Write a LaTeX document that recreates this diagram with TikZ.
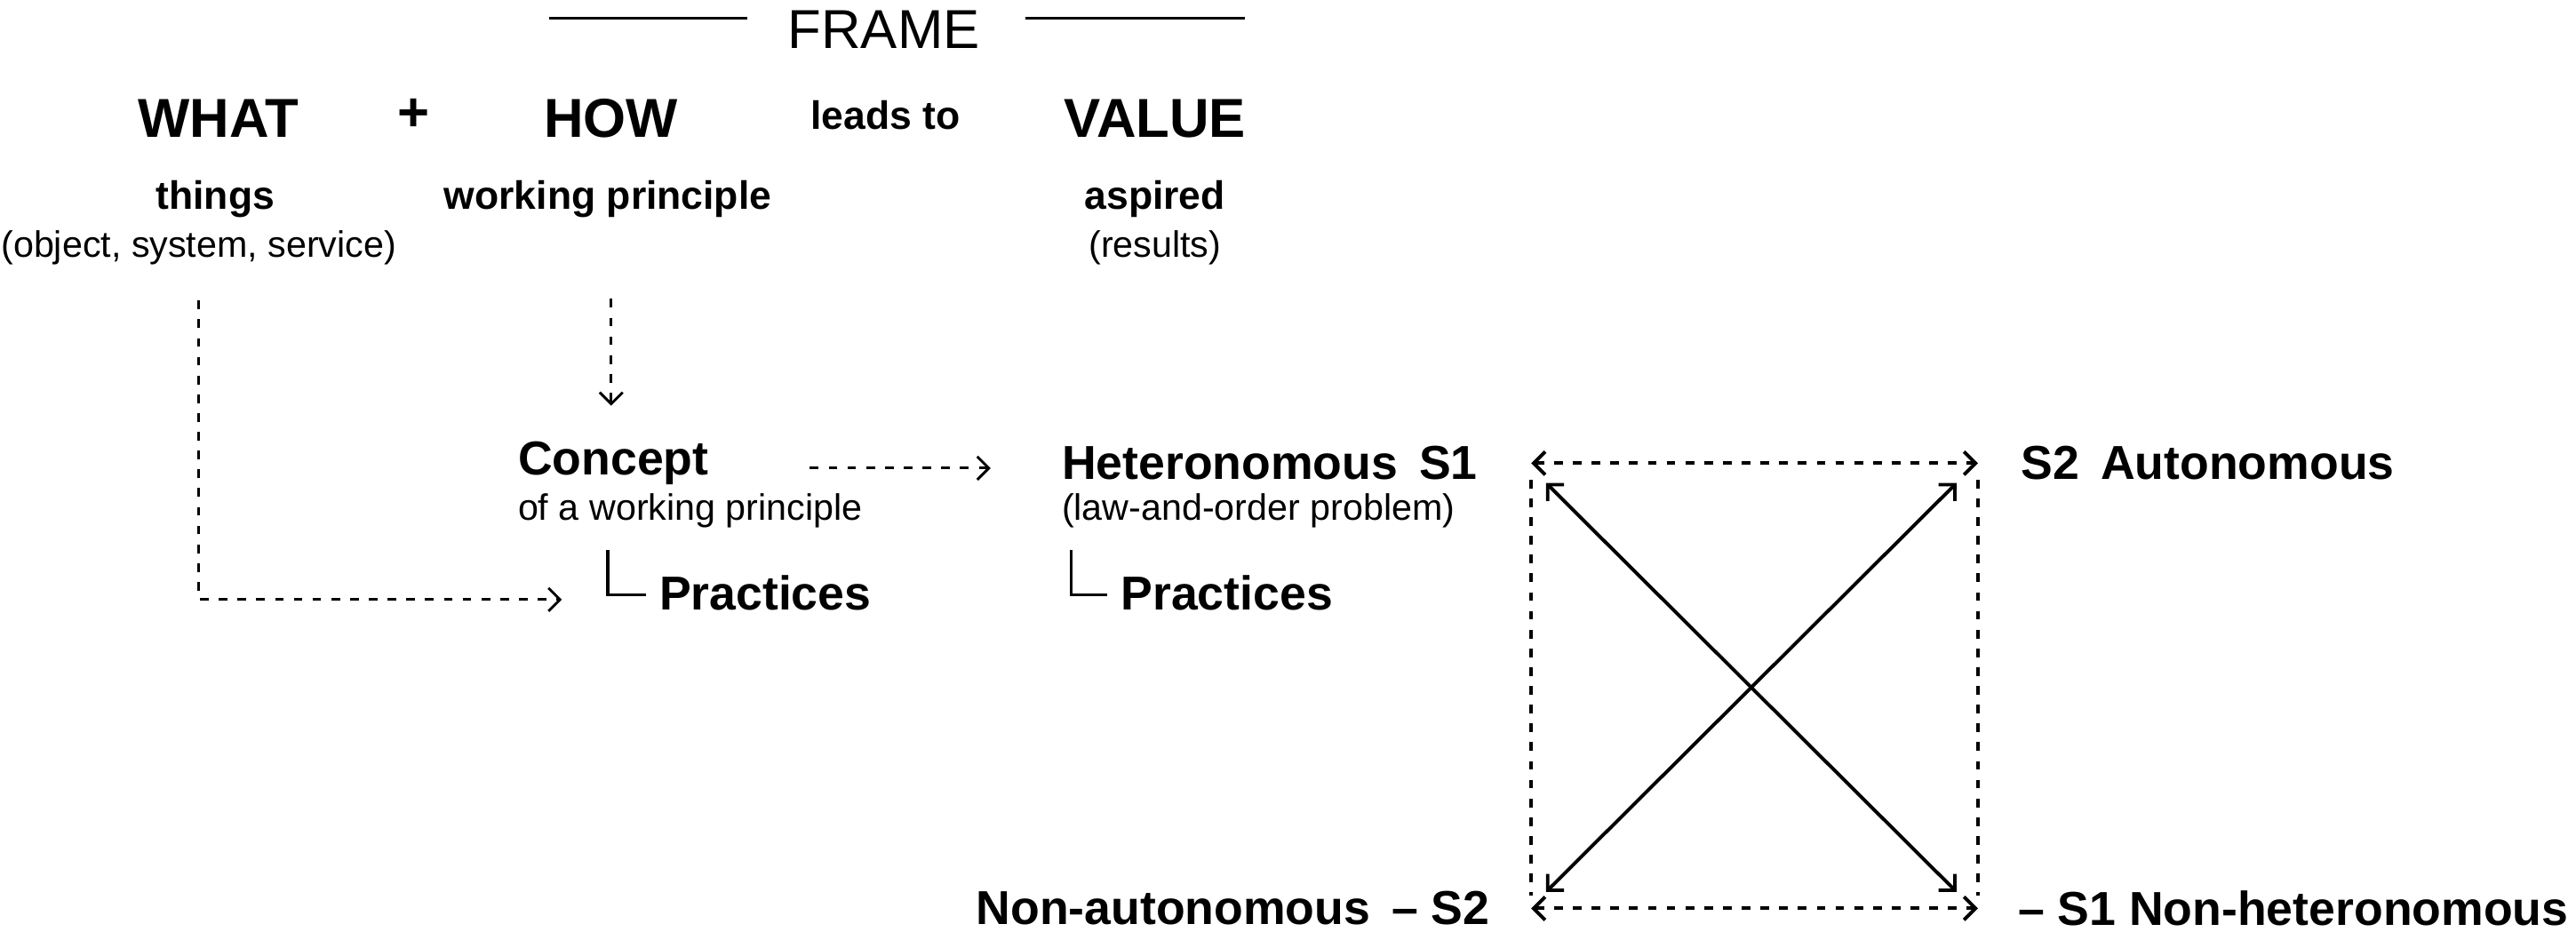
\documentclass[tikz,border=0pt]{standalone}
\usepackage{fontspec}
\setmainfont{Liberation Sans}
\usetikzlibrary{arrows.meta}
\begin{document}
\begin{tikzpicture}[x=0.02cm,y=-0.02cm,
  big/.style={font=\fontsize{19}{22}\selectfont\bfseries},
  mid/.style={font=\fontsize{16.5}{19}\selectfont\bfseries},
  sub/.style={font=\fontsize{13.7}{16}\selectfont\bfseries},
  sm/.style={font=\fontsize{12.7}{15}\selectfont},
  dsh/.style={line width=0.9pt,dash pattern=on 3pt off 3.5pt},
  tip/.style={-{Straight Barb[length=4pt,width=8pt]}},
  tips/.style={{Straight Barb[length=4pt,width=8pt]}-{Straight Barb[length=4pt,width=8pt]}},
  lin/.style={line width=1.2pt}]
\useasboundingbox (0,0) rectangle (1568,577);
\node[font=\fontsize{19}{22}\selectfont] (frame) at (538,18) {FRAME};
\draw[line width=0.8pt] (334,11) -- (455,11) (624,11) -- (758,11);
\node[big] (what) at (133,72) {WHAT};
\node[big] (plus) at (252,70) {+};
\node[big] (how) at (372,72) {HOW};
\node[sub] (leads) at (539,70) {leads to};
\node[big] (value) at (703,72) {VALUE};
\node[sub] (things) at (131,121) {things};
\node[sm] (osys) at (121,151) {(object, system, service)};
\node[sub] (wp) at (370,121) {working principle};
\node[sub] (asp) at (703,121) {aspired};
\node[sm] (res) at (703,151) {(results)};
\node[mid,anchor=west,inner sep=0] (concept) at (315,282) {Concept};
\node[sm,anchor=west,inner sep=0] (cwp) at (315,311) {of a working principle};
\node[mid,anchor=west,inner sep=0] (pr1) at (401,361) {Practices};
\node[mid,anchor=west,inner sep=0] (het) at (646,282) {Heteronomous\, S1};
\node[sm,anchor=west,inner sep=0] (law) at (646,311) {(law-and-order problem)};
\node[mid,anchor=west,inner sep=0] (pr2) at (682,361) {Practices};
\node[mid,anchor=west,inner sep=0] (aut) at (1230,282) {S2\, Autonomous};
\node[mid,anchor=east,inner sep=0] (naut) at (907,553) {Non-autonomous\, – S2};
\node[mid,anchor=west,inner sep=0] (nhet) at (1228,553) {– S1 Non-heteronomous};
\coordinate (a1) at (121,183); \coordinate (a2) at (121,365); \coordinate (a3) at (342,365);
\draw[dsh,tip] (a1) -- (a2) -- (a3);
\coordinate (b1) at (372,182); \coordinate (b2) at (372,247);
\draw[dsh,tip] (b1) -- (b2);
\coordinate (c1) at (493,285); \coordinate (c2) at (603,285);
\draw[dsh,tip] (c1) -- (c2);
\draw[line width=1pt] (370,335) -- (370,362) -- (393,362);
\draw[line width=1pt] (652,335) -- (652,362) -- (674,362);
\coordinate (tl) at (932,282); \coordinate (tr) at (1204,282);
\coordinate (bl) at (932,553); \coordinate (br) at (1204,553);
\draw[dsh,line width=1.2pt,tips] (tl) -- (tr);
\draw[dsh,line width=1.2pt,tips] (bl) -- (br);
\draw[dsh,line width=1.2pt] (932,292) -- (932,545);
\draw[dsh,line width=1.2pt] (1204,292) -- (1204,545);
\draw[lin,tips] (941,294) -- (1191,543);
\draw[lin,tips] (941,543) -- (1191,294);
\end{tikzpicture}
\end{document}
